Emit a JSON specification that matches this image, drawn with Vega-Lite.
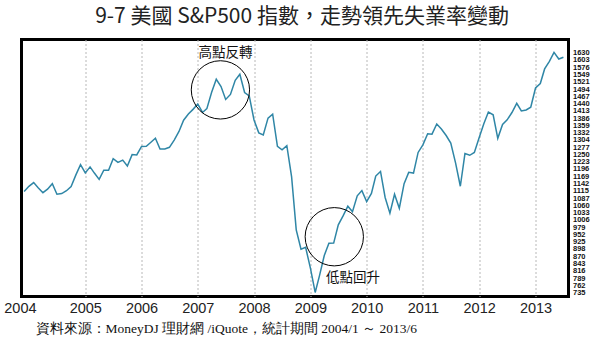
{
  "$schema": "https://vega.github.io/schema/vega-lite/v6.json",
  "width": 547,
  "height": 257,
  "autosize": "none",
  "padding": {"left": 21.5, "top": 39.5, "right": 31.5, "bottom": 64.5},
  "background": "white",
  "title": {
    "text": "9-7 美國 S&P500 指數，走勢領先失業率變動",
    "font": "Noto Sans CJK TC",
    "fontSize": 21,
    "fontWeight": "normal",
    "color": "#222",
    "anchor": "middle",
    "offset": 13,
    "dx": 7
  },
  "config": {
    "view": {"stroke": "#000", "strokeWidth": 3}
  },
  "datasets": {
    "sp": [
      {"d": "2003/12/01", "v": 1111.92},
      {"d": "2004/01/01", "v": 1131.13}, {"d": "2004/02/01", "v": 1144.94}, {"d": "2004/03/01", "v": 1126.21}, {"d": "2004/04/01", "v": 1107.30},
      {"d": "2004/05/01", "v": 1120.68}, {"d": "2004/06/01", "v": 1140.84}, {"d": "2004/07/01", "v": 1101.72}, {"d": "2004/08/01", "v": 1104.24},
      {"d": "2004/09/01", "v": 1114.58}, {"d": "2004/10/01", "v": 1130.20}, {"d": "2004/11/01", "v": 1173.82}, {"d": "2004/12/01", "v": 1211.92},
      {"d": "2005/01/01", "v": 1181.27}, {"d": "2005/02/01", "v": 1203.60}, {"d": "2005/03/01", "v": 1180.59}, {"d": "2005/04/01", "v": 1156.85},
      {"d": "2005/05/01", "v": 1191.50}, {"d": "2005/06/01", "v": 1191.33}, {"d": "2005/07/01", "v": 1234.18}, {"d": "2005/08/01", "v": 1220.33},
      {"d": "2005/09/01", "v": 1228.81}, {"d": "2005/10/01", "v": 1207.01}, {"d": "2005/11/01", "v": 1249.48}, {"d": "2005/12/01", "v": 1248.29},
      {"d": "2006/01/01", "v": 1280.08}, {"d": "2006/02/01", "v": 1280.66}, {"d": "2006/03/01", "v": 1294.83}, {"d": "2006/04/01", "v": 1310.61},
      {"d": "2006/05/01", "v": 1270.09}, {"d": "2006/06/01", "v": 1270.20}, {"d": "2006/07/01", "v": 1276.66}, {"d": "2006/08/01", "v": 1303.82},
      {"d": "2006/09/01", "v": 1335.85}, {"d": "2006/10/01", "v": 1377.94}, {"d": "2006/11/01", "v": 1400.63}, {"d": "2006/12/01", "v": 1418.30},
      {"d": "2007/01/01", "v": 1438.24}, {"d": "2007/02/01", "v": 1406.82}, {"d": "2007/03/01", "v": 1420.86}, {"d": "2007/04/01", "v": 1482.37},
      {"d": "2007/05/01", "v": 1530.62}, {"d": "2007/06/01", "v": 1503.35}, {"d": "2007/07/01", "v": 1455.27}, {"d": "2007/08/01", "v": 1473.99},
      {"d": "2007/09/01", "v": 1526.75}, {"d": "2007/10/01", "v": 1549.38}, {"d": "2007/11/01", "v": 1481.14}, {"d": "2007/12/01", "v": 1468.36},
      {"d": "2008/01/01", "v": 1378.55}, {"d": "2008/02/01", "v": 1330.63}, {"d": "2008/03/01", "v": 1322.70}, {"d": "2008/04/01", "v": 1385.59},
      {"d": "2008/05/01", "v": 1400.38}, {"d": "2008/06/01", "v": 1280.00}, {"d": "2008/07/01", "v": 1267.38}, {"d": "2008/08/01", "v": 1282.83},
      {"d": "2008/09/01", "v": 1166.36}, {"d": "2008/10/01", "v": 968.75}, {"d": "2008/11/01", "v": 896.24}, {"d": "2008/12/01", "v": 903.25},
      {"d": "2009/01/01", "v": 825.88}, {"d": "2009/02/01", "v": 735.09}, {"d": "2009/03/01", "v": 797.87}, {"d": "2009/04/01", "v": 872.81},
      {"d": "2009/05/01", "v": 919.14}, {"d": "2009/06/01", "v": 919.32}, {"d": "2009/07/01", "v": 987.48}, {"d": "2009/08/01", "v": 1020.62},
      {"d": "2009/09/01", "v": 1057.08}, {"d": "2009/10/01", "v": 1036.19}, {"d": "2009/11/01", "v": 1095.63}, {"d": "2009/12/01", "v": 1115.10},
      {"d": "2010/01/01", "v": 1073.87}, {"d": "2010/02/01", "v": 1104.49}, {"d": "2010/03/01", "v": 1169.43}, {"d": "2010/04/01", "v": 1186.69},
      {"d": "2010/05/01", "v": 1089.41}, {"d": "2010/06/01", "v": 1030.71}, {"d": "2010/07/01", "v": 1101.60}, {"d": "2010/08/01", "v": 1049.33},
      {"d": "2010/09/01", "v": 1141.20}, {"d": "2010/10/01", "v": 1183.26}, {"d": "2010/11/01", "v": 1180.55}, {"d": "2010/12/01", "v": 1257.64},
      {"d": "2011/01/01", "v": 1286.12}, {"d": "2011/02/01", "v": 1327.22}, {"d": "2011/03/01", "v": 1325.83}, {"d": "2011/04/01", "v": 1363.61},
      {"d": "2011/05/01", "v": 1345.20}, {"d": "2011/06/01", "v": 1320.64}, {"d": "2011/07/01", "v": 1292.28}, {"d": "2011/08/01", "v": 1218.89},
      {"d": "2011/09/01", "v": 1131.42}, {"d": "2011/10/01", "v": 1253.30}, {"d": "2011/11/01", "v": 1246.96}, {"d": "2011/12/01", "v": 1257.60},
      {"d": "2012/01/01", "v": 1312.41}, {"d": "2012/02/01", "v": 1365.68}, {"d": "2012/03/01", "v": 1408.47}, {"d": "2012/04/01", "v": 1397.91},
      {"d": "2012/05/01", "v": 1310.33}, {"d": "2012/06/01", "v": 1362.16}, {"d": "2012/07/01", "v": 1379.32}, {"d": "2012/08/01", "v": 1406.58},
      {"d": "2012/09/01", "v": 1440.67}, {"d": "2012/10/01", "v": 1412.16}, {"d": "2012/11/01", "v": 1416.18}, {"d": "2012/12/01", "v": 1426.19},
      {"d": "2013/01/01", "v": 1498.11}, {"d": "2013/02/01", "v": 1514.68}, {"d": "2013/03/01", "v": 1569.19}, {"d": "2013/04/01", "v": 1597.57},
      {"d": "2013/05/01", "v": 1630.74}, {"d": "2013/06/01", "v": 1606.28}, {"d": "2013/07/01", "v": 1613.0}
    ],
    "circles": [
      {"d": "2007/05/28", "v": 1491},
      {"d": "2009/06/05", "v": 943}
    ],
    "labels": [
      {"d": "2007/06/30", "v": 1630, "t": "高點反轉"},
      {"d": "2009/10/05", "v": 790, "t": "低點回升"}
    ]
  },
  "encoding": {
    "x": {
      "field": "d",
      "type": "temporal",
      "scale": {"domain": [{"year": 2003, "month": 11, "date": 14}, {"year": 2013, "month": 8, "date": 3}]},
      "axis": {
        "values": [
          {"year": 2004, "month": 1, "date": 1}, {"year": 2005, "month": 1, "date": 1}, {"year": 2006, "month": 1, "date": 1},
          {"year": 2007, "month": 1, "date": 1}, {"year": 2008, "month": 1, "date": 1}, {"year": 2009, "month": 1, "date": 1},
          {"year": 2010, "month": 1, "date": 1}, {"year": 2011, "month": 1, "date": 1}, {"year": 2012, "month": 1, "date": 1},
          {"year": 2013, "month": 1, "date": 1}
        ],
        "format": "%Y",
        "domain": false,
        "ticks": false,
        "grid": true,
        "gridColor": "#b8b8b8",
        "gridDash": [2, 2],
        "gridWidth": 1,
        "gridOpacity": {"condition": {"test": "year(datum.value) <= 2004", "value": 0}, "value": 1},
        "labelOffset": {"condition": {"test": "year(datum.value) <= 2004", "value": -9}, "value": 0},
        "labelFont": "Liberation Sans",
        "labelFontSize": 14.5,
        "labelColor": "#222",
        "labelPadding": 5,
        "labelBound": false,
        "labelFlush": false,
        "labelOverlap": false,
        "title": "資料來源：MoneyDJ 理財網 /iQuote，統計期間 2004/1 ～ 2013/6",
        "titleFont": "Liberation Serif",
        "titleFontSize": 13.5,
        "titleFontWeight": "normal",
        "titleColor": "#111",
        "titleAnchor": "start",
        "titleAlign": "left",
        "titleX": 13.5,
        "titlePadding": 6
      }
    },
    "y": {
      "field": "v",
      "type": "quantitative",
      "scale": {"domain": [720, 1679], "nice": false, "zero": false},
      "axis": {
        "orient": "right",
        "values": [735, 762, 789, 816, 843, 870, 898, 925, 952, 979, 1006, 1033, 1060, 1087, 1115, 1142, 1169, 1196, 1223, 1250, 1277, 1304, 1332, 1359, 1386, 1413, 1440, 1467, 1494, 1521, 1549, 1576, 1603, 1630],
        "format": "d",
        "domain": false,
        "ticks": false,
        "grid": false,
        "labelFont": "Liberation Sans",
        "labelFontSize": 7.5,
        "labelFontWeight": "bold",
        "labelColor": "#111",
        "labelPadding": 4,
        "labelOverlap": false,
        "labelSeparation": 0,
        "labelBound": false,
        "title": null
      }
    }
  },
  "layer": [
    {
      "data": {"name": "sp"},
      "mark": {"type": "line", "color": "#2f86a6", "strokeWidth": 1.5}
    },
    {
      "data": {"name": "circles"},
      "mark": {"type": "point", "shape": "circle", "size": 3400, "filled": false, "color": "#000", "strokeWidth": 1, "opacity": 1}
    },
    {
      "data": {"name": "labels"},
      "mark": {"type": "text", "font": "Noto Sans CJK TC", "fontSize": 13.5, "color": "#111"},
      "encoding": {"text": {"field": "t"}}
    }
  ]
}
